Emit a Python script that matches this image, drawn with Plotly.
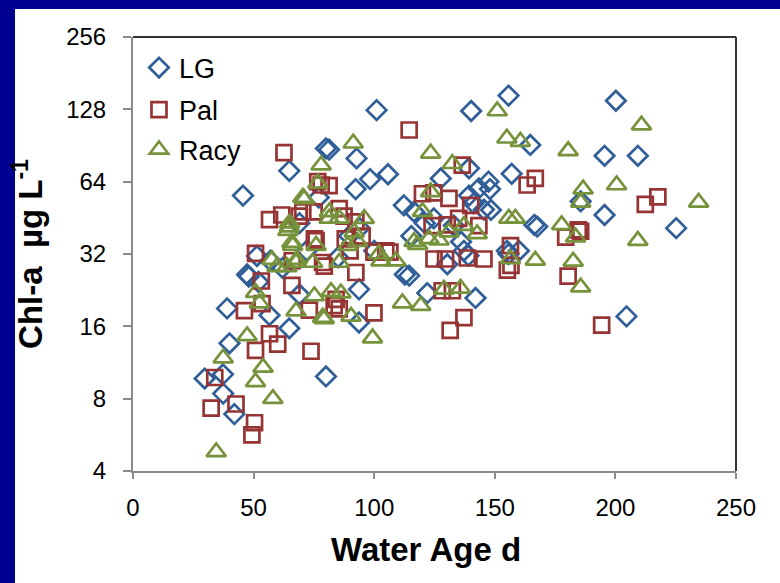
import plotly.graph_objects as go

# ---- data ----
lg_age = [29.7, 37.3, 37.4, 39, 40, 42, 45.6, 47.3, 48, 51.4, 52, 56.6, 57, 62, 64.8, 64.8,
          69, 69, 72, 77, 80, 81.3, 80, 85, 89.6, 92.3, 92.7, 93.7, 93.7, 94, 98.3, 100,
          101, 105.7, 112.3, 112.7, 114.5, 115.4, 116.5, 121, 122, 124.7, 127.6, 130.3,
          133, 136, 137.2, 139.1, 139.3, 139.3, 140.2, 142, 141.2, 143.4, 145.5, 147.4,
          148, 148.4, 155, 155.7, 155.7, 157, 160, 164.7, 166.4, 167.6, 185.6, 195.5,
          195.5, 200.2, 204.6, 209.3, 225.2]
lg_chl = [9.7, 10.1, 8.4, 19, 13.6, 6.9, 56, 26.3, 25.8, 31.4, 24.5, 17.8, 30, 28, 71, 15.7,
          21.7, 43, 33, 55, 88, 87, 9.9, 31, 38, 59.6, 80, 22.8, 16.6, 41, 65.6, 33,
          127, 68.7, 51, 26.3, 26, 38, 48, 43, 22, 45, 66, 29,
          42, 36, 33, 31.5, 72.8, 56, 126, 21, 52, 60, 49, 64,
          59.6, 48.8, 33, 146, 32, 69, 33, 91, 42.3, 41.6, 53, 82,
          46.5, 139, 17.6, 82, 41]

pal_age = [32.4, 33.9, 42.7, 50.4, 49.3, 46.2, 50.8, 50.8, 53.5, 56.6, 60, 56.6, 61.7, 62.6,
           65.9, 73.8, 73.1, 76.6, 78, 81.3, 75.1, 69, 70.4, 75.9, 75.2, 79.3, 78.6, 83.4,
           84.2, 85.5, 85.5, 87.5, 92.4, 92.4, 99.9, 99.9, 104.8, 106.5, 114.5, 120, 124.7,
           131, 131.5, 124, 124.8, 129.6, 128.2, 132.4, 130.3, 135, 136.5, 137.2, 138.6,
           140, 143.4, 145.5, 155.2, 156.7, 156.5, 163.4, 166.8, 179.4, 180.4, 184.6,
           185.6, 194.3, 212.4, 217.6, 53.2, 66, 88, 95, 90]
pal_chl = [7.3, 9.8, 7.6, 6.35, 5.66, 18.6, 12.7, 32.2, 19.9, 14.9, 13.5, 44.5, 46.5, 84.6,
           23.7, 12.6, 18.7, 64, 62, 61.6, 47.9, 46, 47.9, 36.4, 37, 28.5, 29.5, 19.5,
           20.7, 18.9, 49.4, 46, 43.5, 26.8, 18.2, 32.6, 33, 32.6, 105, 57, 57.5,
           54.5, 15.4, 42, 30.5, 30.5, 22.5, 22.5, 42.3, 45, 75, 17.4, 30.8,
           51, 42, 30.5, 27.4, 28.7, 34.7, 62, 66, 37.6, 25.9, 40.3,
           39.8, 16.2, 51.5, 55.3, 24.7, 30, 37, 38, 33]

racy_age = [34.5, 37.4, 47.3, 50.8, 53.9, 58, 50.8, 52.4, 57.6, 59.7, 63.8, 64.8, 65.9, 67.9,
            67.6, 67.6, 71, 70.4, 74.5, 75.2, 75.9, 76.6, 78, 79.3, 78.6, 81.4, 82.1, 85.5,
            86.2, 81.3, 85.5, 89, 90.4, 91.3, 91.7, 93.1, 95.9, 99.3, 102, 102.8, 109, 111.7,
            116.5, 119.3, 118, 120, 122.7, 123.4, 123.4, 126.9, 128.9, 131, 132.4, 135.8,
            137.2, 142.7, 151, 155, 155.8, 158.5, 156.5, 160.6, 166.8, 177.7, 180.4, 182.5,
            183.5, 185.6, 185.6, 186.6, 200.5, 209.3, 210.8, 234.5, 64.9, 64.2, 66.2]
racy_chl = [4.8, 11.8, 14.6, 9.4, 10.8, 8, 22.1, 20, 30.3, 28.3, 28.3, 41.4, 35.7, 30.3,
            29.5, 18.5, 54.3, 55, 29.5, 21.4, 34.7, 63, 75, 17.2, 17.4, 47.9, 22.3, 29.5,
            22, 45, 45, 34.7, 17.6, 92.5, 39.5, 36, 44.9, 14.3, 32, 29.9, 29.9, 20,
            36, 19.5, 35, 48, 37, 84, 58, 36.5, 22.8, 39.5, 76, 23,
            42, 38.8, 126, 97, 45, 45, 30.5, 94, 30.1, 42.3, 86, 29.8,
            37.6, 23.3, 52.5, 59.6, 62, 36.4, 110, 52.5, 43, 40, 34.7]

y_ticks = [4, 8, 16, 32, 64, 128, 256]
x_ticks = [0, 50, 100, 150, 200, 250]

FONT = "Liberation Sans, Arial, sans-serif"

W, H = 780, 583
L, R, T, B = 133, 44, 37, 112
pw, ph = W - L - R, H - T - B

fig = go.Figure()
series = [
    ("LG", lg_age, lg_chl, "diamond-open", "#2F5E98", 15, "legend", 68),
    ("Pal", pal_age, pal_chl, "square-open", "#953432", 15, "legend2", 110),
    ("Racy", racy_age, racy_chl, "triangle-up-open", "#76933C", 17, "legend3", 150),
]
legends = {}
for name, xs, ys, sym, col, sz, leg, ly in series:
    fig.add_trace(go.Scatter(
        x=xs, y=ys, mode="markers", name=name, legend=leg,
        marker=dict(symbol=sym, size=sz, color=col, line=dict(color=col, width=2.7)),
    ))
    legends[leg] = dict(x=(139 - L) / pw, y=(H - B - ly) / ph, xanchor="left", yanchor="middle",
                        bgcolor="rgba(0,0,0,0)", font=dict(size=27, family=FONT),
                        itemsizing="trace")

fig.update_layout(
    width=W, height=H,
    margin=dict(l=L, r=R, t=T, b=B, autoexpand=False),
    paper_bgcolor="#000090",
    plot_bgcolor="white",
    font=dict(family=FONT, color="black", size=24),
    showlegend=True,
    shapes=[
        dict(type="rect", xref="paper", yref="paper", layer="below",
             x0=(15 - L) / pw, x1=(W + 5 - L) / pw,
             y0=-(B + 5) / ph, y1=(ph + T - 9) / ph,
             fillcolor="white", line=dict(width=0)),
        dict(type="line", xref="paper", yref="paper", x0=0, x1=1, y0=1, y1=1,
             line=dict(color="#333333", width=2)),
        dict(type="line", xref="paper", yref="paper", x0=1, x1=1, y0=0, y1=1,
             line=dict(color="#333333", width=2)),
    ],
    annotations=[
        dict(text="<b>Water Age d</b>", xref="paper", yref="paper",
             x=(426 - L) / pw, y=(H - B - 549) / ph, xanchor="center", yanchor="middle",
             showarrow=False, font=dict(size=33, family=FONT, color="black")),
    ],
    **legends,
)

fig.update_xaxes(
    range=[0, 250], tickvals=x_ticks, ticktext=[str(v) for v in x_ticks],
    showgrid=False, zeroline=False, showline=True, linecolor="#8a8a8a", linewidth=2,
    ticks="outside", ticklen=6, tickwidth=1.5, tickcolor="#8a8a8a",
    tickfont=dict(size=24, family=FONT), ticklabelstandoff=8, automargin=False,
)
fig.update_yaxes(
    type="log", range=[0.60206, 2.40824],
    tickvals=y_ticks, ticktext=[str(v) for v in y_ticks],
    showgrid=False, zeroline=False, showline=True, linecolor="#8a8a8a", linewidth=2,
    ticks="outside", ticklen=8, tickwidth=1.5, tickcolor="#8a8a8a",
    tickfont=dict(size=24, family=FONT), ticklabelstandoff=12, automargin=False,
    title=dict(text="<b>Chl-a  µg L<sup>-1</sup></b>", font=dict(size=33, family=FONT), standoff=14),
)

fig.write_html("out.html", config={"displayModeBar": False},
               post_script="document.body.style.margin='0px';document.body.style.overflow='hidden';")
